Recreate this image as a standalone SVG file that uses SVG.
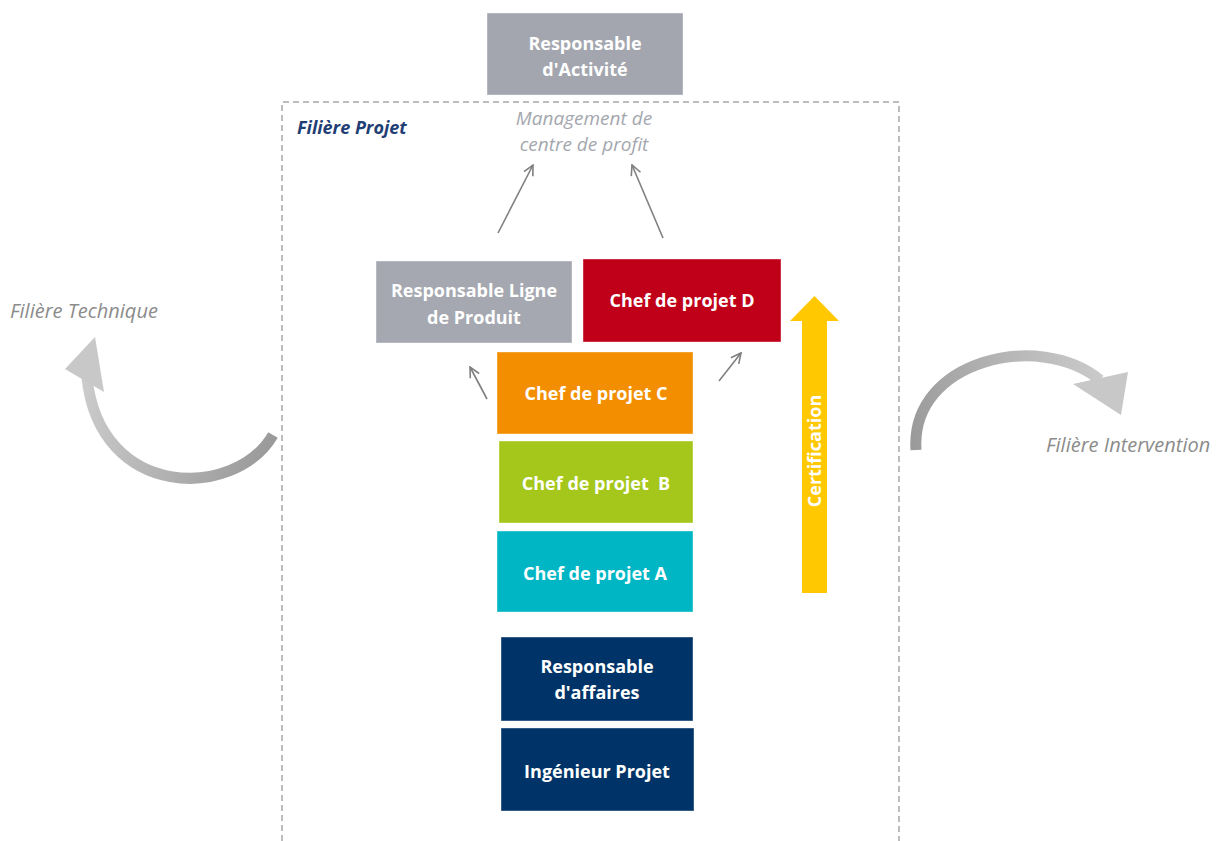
<svg xmlns="http://www.w3.org/2000/svg" width="1221" height="841" viewBox="0 0 1221 841">
<style>
.box{stroke:#ffffff;stroke-opacity:0.4;stroke-width:1}
.bt{font-family:"Open Sans","Liberation Sans",sans-serif;font-weight:700;font-size:18px;fill:#ffffff;text-anchor:middle}
.it{font-family:"Open Sans","Liberation Sans",sans-serif;font-style:italic;font-size:19px}
.side{font-size:20px;fill:#8c8c8c}
.conn{stroke:#808080;stroke-width:1.6;fill:none;marker-end:url(#open)}
</style>
<defs>
<marker id="open" viewBox="0 0 12 12" refX="11" refY="6" markerWidth="12" markerHeight="12" markerUnits="userSpaceOnUse" orient="auto">
<path d="M1,1 L11,6 L1,11" fill="none" stroke="#808080" stroke-width="1.6"/>
</marker>
<linearGradient id="gl" gradientUnits="userSpaceOnUse" x1="275" y1="435" x2="85" y2="380">
<stop offset="0" stop-color="#9a9a9a"/><stop offset="1" stop-color="#cbcbcb"/>
</linearGradient>
<linearGradient id="gr" gradientUnits="userSpaceOnUse" x1="915" y1="450" x2="1110" y2="385">
<stop offset="0" stop-color="#9a9a9a"/><stop offset="1" stop-color="#cbcbcb"/>
</linearGradient>
</defs>
<rect width="1221" height="841" fill="#ffffff"/>

<path d="M282,841 V102 H899 V841" fill="none" stroke="#a6a6a6" stroke-width="1.5" stroke-dasharray="6,4"/>
<text x="297" y="134" font-family="Open Sans, Liberation Sans, sans-serif" font-weight="700" font-style="italic" font-size="18" fill="#1f3e74">Filière Projet</text>

<g id="n-activite"><rect class="box" x="487" y="13" width="196" height="82" fill="#a3a6ae"/>
<text class="bt" x="585" y="50">Responsable</text><text class="bt" x="585" y="76">d'Activité</text></g>

<g id="n-management"><text class="it" x="584" y="125" text-anchor="middle" fill="#a4a7ae">Management de</text>
<text class="it" x="584" y="151" text-anchor="middle" fill="#a4a7ae">centre de profit</text></g>

<g id="n-rlp"><rect class="box" x="376" y="261" width="196" height="82" fill="#a5a8b0"/>
<text class="bt" x="474" y="297">Responsable Ligne</text><text class="bt" x="474" y="324">de Produit</text></g>

<g id="n-cpd"><rect class="box" x="583" y="259" width="198" height="83" fill="#c00018"/>
<text class="bt" x="682" y="307">Chef de projet D</text></g>

<g id="n-cpc"><rect class="box" x="497" y="352" width="196" height="82" fill="#f28e00"/>
<text class="bt" x="596" y="400">Chef de projet C</text></g>

<g id="n-cpb"><rect class="box" x="499" y="441" width="194" height="82" fill="#a5c71b"/>
<text class="bt" x="596" y="490" xml:space="preserve">Chef de projet  B</text></g>

<g id="n-cpa"><rect class="box" x="497" y="531" width="196" height="81" fill="#00b6c4"/>
<text class="bt" x="595" y="580">Chef de projet A</text></g>

<g id="n-raff"><rect class="box" x="501" y="637" width="192" height="84" fill="#003468"/>
<text class="bt" x="597" y="673">Responsable</text><text class="bt" x="597" y="699">d'affaires</text></g>

<g id="n-ing"><rect class="box" x="501" y="728" width="193" height="83" fill="#003468"/>
<text class="bt" x="597" y="778">Ingénieur Projet</text></g>

<g id="n-cert">
<polygon points="802,593 827,593 827,321 839,321 814.5,296 790,321 802,321" fill="#ffc800"/>
<text class="bt" transform="translate(821,451) rotate(-90)">Certification</text>
</g>

<g id="n-tech">
<path d="M273,435 C235,500 100,500 87,378" fill="none" stroke="url(#gl)" stroke-width="11"/>
<polygon points="95,337 65,369 104,392" fill="#c8c8c8"/>
<text class="it side" x="10" y="318">Filière Technique</text>
</g>

<g id="n-interv">
<path d="M916,450 C910,360 1040,330 1100,380" fill="none" stroke="url(#gr)" stroke-width="11"/>
<polygon points="1073,384 1128,372 1121,415" fill="#c8c8c8"/>
<text class="it side" x="1046" y="452">Filière Intervention</text>
</g>

<g id="connectors">
<line class="conn" x1="498" y1="233" x2="533" y2="165"/>
<line class="conn" x1="663" y1="238" x2="632" y2="165"/>
<line class="conn" x1="487" y1="399" x2="470" y2="367"/>
<line class="conn" x1="719" y1="381" x2="741" y2="353"/>
</g>
</svg>
